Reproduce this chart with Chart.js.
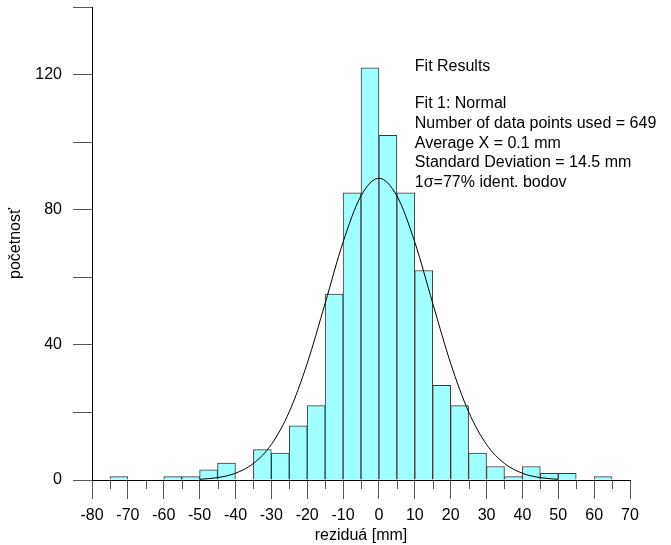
<!DOCTYPE html>
<html>
<head>
  <meta charset="utf-8">
  <title>Rezidua</title>
  <script src="https://cdn.jsdelivr.net/npm/chart.js@4.4.0/dist/chart.umd.min.js"></script>
  <style>
    html, body { margin: 0; padding: 0; background: #fff; }
    #wrap { width: 671px; height: 545px; }
  </style>
</head>
<body>
  <div id="wrap"><canvas id="myChart" width="671" height="545"></canvas></div>
  <script type="text/javascript">
    // histogram bins (centres, mm) and counts
    var binCentres = [-72.5, -67.5, -62.5, -57.5, -52.5, -47.5, -42.5, -37.5, -32.5, -27.5,
                      -22.5, -17.5, -12.5, -7.5, -2.5, 2.5, 7.5, 12.5, 17.5, 22.5,
                      27.5, 32.5, 37.5, 42.5, 47.5, 52.5, 57.5, 62.5];
    var counts = [1, 0, 0, 1, 1, 3, 5, 0, 9, 8,
                  16, 22, 55, 85, 122, 102, 85, 62, 28, 22,
                  8, 4, 1, 4, 2, 2, 0, 1];

    // normal fit curve
    var curveX = [-50, -45, -40, -35, -30, -25, -20, -15, -10, -5, 0, 5, 10, 15, 20, 25, 30, 35, 40, 45, 50];
    var curveY = [0.2, 0.7, 2, 4.9, 10.5, 20.2, 34.5, 52.3, 70.4, 84.1, 89.3, 84.1, 70.4, 52.3, 34.5, 20.2, 10.5, 4.9, 2, 0.7, 0.2];

    var xTickLabels = [-80, -70, -60, -50, -40, -30, -20, -10, 0, 10, 20, 30, 40, 50, 60, 70];
    var yTickLabels = [0, 40, 80, 120];

    var fitText = [
      "Fit Results",
      "",
      "Fit 1: Normal",
      "Number of data points used = 649",
      "Average X = 0.1 mm",
      "Standard Deviation = 14.5 mm",
      "1\u03c3=77% ident. bodov"
    ];

    var FONT = "'Liberation Sans', Arial, sans-serif";

    var minorTicks = {
      id: 'minorTicks',
      afterDraw: function(chart) {
        var ctx = chart.ctx;
        var xs = chart.scales.x;
        var bottom = chart.chartArea.bottom;
        ctx.save();
        ctx.strokeStyle = '#555';
        ctx.lineWidth = 1;
        for (var v = xs.min + 5; v < xs.max; v += 10) {
          var px = Math.round(xs.getPixelForValue(v)) + 0.5;
          ctx.beginPath();
          ctx.moveTo(px, bottom);
          ctx.lineTo(px, bottom + 9);
          ctx.stroke();
        }
        // axis line on top of the bars
        ctx.strokeStyle = '#000';
        ctx.beginPath();
        ctx.moveTo(chart.chartArea.left, Math.round(bottom) + 0.5);
        ctx.lineTo(chart.chartArea.right, Math.round(bottom) + 0.5);
        ctx.stroke();

        // fit results text
        ctx.fillStyle = '#000';
        ctx.font = '16px ' + FONT;
        ctx.textBaseline = 'middle';
        ctx.textAlign = 'left';
        var tx = xs.getPixelForValue(10);
        var ty = chart.chartArea.top + 60;
        for (var i = 0; i < fitText.length; i++) {
          if (fitText[i]) ctx.fillText(fitText[i], tx, ty + (i === 0 ? 0 : 37 + (i - 2) * 19.6));
        }
        ctx.restore();
      }
    };

    var barData = binCentres.map(function(c, i) { return { x: c, y: counts[i] }; });
    var lineData = curveX.map(function(c, i) { return { x: c, y: curveY[i] }; });

    var ctx = document.getElementById("myChart");
    var myChart = new Chart(ctx, {
      type: 'bar',
      data: {
        datasets: [
          {
            type: 'line',
            data: lineData,
            borderColor: '#000',
            borderWidth: 1,
            pointRadius: 0,
            fill: false,
            cubicInterpolationMode: 'monotone'
          },
          {
            type: 'bar',
            data: barData,
            backgroundColor: 'rgb(160,255,255)',
            borderColor: '#3a3a3a',
            borderWidth: 1,
            barPercentage: 1.0,
            categoryPercentage: 1.0,
            grouped: false
          }
        ]
      },
      options: {
        responsive: false,
        animation: false,
        events: [],
        layout: { padding: { top: 7, right: 41, left: 0, bottom: 0 } },
        plugins: { legend: { display: false }, tooltip: { enabled: false } },
        scales: {
          x: {
            type: 'linear',
            min: -80,
            max: 70,
            offset: false,
            grid: { drawOnChartArea: false, tickLength: 19, tickColor: '#555', offset: false },
            border: { color: '#000', width: 1 },
            ticks: {
              stepSize: 10,
              color: '#000',
              padding: 7,
              maxRotation: 0,
              font: { family: FONT, size: 16 },
              callback: function(v) { return xTickLabels.indexOf(v) >= 0 ? String(v) : ''; }
            },
            title: {
              display: true,
              text: 'reziduá [mm]',
              color: '#000',
              font: { family: FONT, size: 16 },
              padding: { top: 0, bottom: 0 }
            },
            afterFit: function(scale) { scale.height = 65; scale.paddingLeft = 0; scale.paddingRight = 0; }
          },
          y: {
            min: 0,
            max: 140,
            grid: { drawOnChartArea: false, tickLength: 19, tickColor: '#555' },
            border: { color: '#000', width: 1 },
            ticks: {
              stepSize: 20,
              color: '#000',
              padding: 11,
              font: { family: FONT, size: 16 },
              callback: function(v) { return yTickLabels.indexOf(v) >= 0 ? String(v) : ''; }
            },
            title: {
              display: true,
              text: 'početnosť',
              color: '#000',
              font: { family: FONT, size: 16 },
              padding: { top: 6, bottom: 0 }
            },
            afterFit: function(scale) { scale.width = 92; scale.paddingTop = 0; scale.paddingBottom = 0; }
          }
        }
      },
      plugins: [minorTicks]
    });
  </script>
</body>
</html>
